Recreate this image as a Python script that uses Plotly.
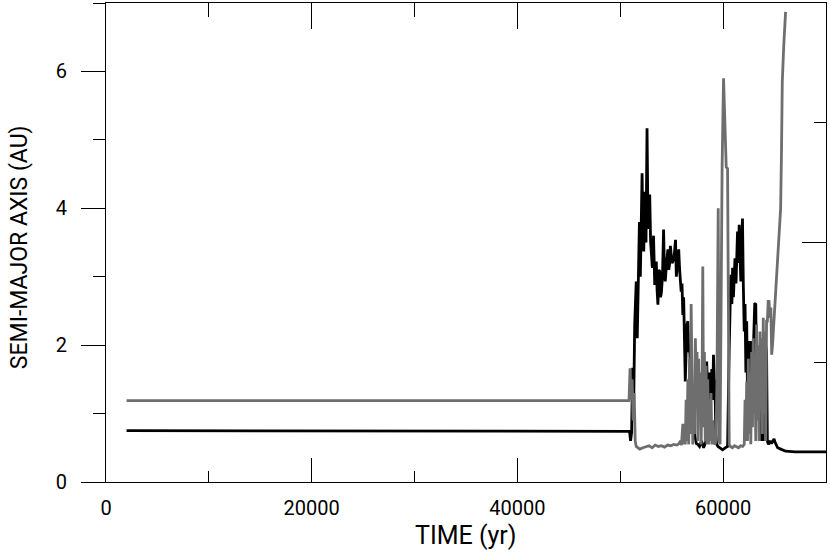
"""
Semi-major axis evolution of two bodies over time
"""

import plotly.graph_objects as go

# Black body: time (yr) and semi-major axis (AU)
black_t = [2000, 12000, 24000, 36000, 46000, 50900,
           51000, 51100, 51200, 51300, 51400, 51550, 51650, 51750, 51860, 51950,
           52020, 52120, 52200, 52280, 52400, 52500, 52600, 52700, 52860, 52950,
           53120, 53230, 53350, 53500, 53580, 53660, 53750, 53830, 53910, 53990,
           54100, 54210, 54290, 54370, 54500, 54630, 54710, 54790, 54870, 54950,
           55030, 55110, 55240, 55370, 55450, 55530, 55600, 55680, 55760, 55840,
           55920, 56000, 56080, 56160, 56240, 56320, 56400, 56480, 56570, 56650,
           56730, 56810, 56890, 56970, 57050, 57130, 57210, 57300, 57400, 57530,
           57700, 57900, 58100, 58340, 58400, 58500, 58580, 58660, 58740, 58820,
           58900, 58980, 59060, 59140, 59200, 59290, 59370, 59500, 59700, 59950,
           60200, 60430, 60590, 60680, 60750, 60850, 60920, 61000, 61080, 61150,
           61250, 61400, 61480, 61560, 61640, 61720, 61800, 61880, 61960, 62050,
           62130, 62210, 62290, 62370, 62450, 62530, 62610, 62690, 62770, 62850,
           62930, 63070, 63170, 63250, 63330, 63420, 63500, 63580, 63660, 63740,
           63820, 63900, 63980, 64060, 64140, 64220, 64300, 64400, 64550, 64700,
           64800, 64950, 65050, 65300, 65600, 66070, 67000, 70000]
black_a = [0.75, 0.75, 0.75, 0.75, 0.75, 0.74,
           0.60, 0.72, 1.67, 1.10, 2.30, 2.93, 2.10, 3.30, 3.80, 3.00,
           3.80, 4.51, 3.60, 3.37, 4.24, 3.50, 5.17, 3.70, 4.20, 3.50,
           3.13, 3.60, 2.88, 3.22, 2.80, 2.59, 3.10, 3.08, 2.70, 2.76,
           3.00, 3.69, 3.10, 2.93, 3.20, 3.40, 3.10, 3.18, 3.45, 3.31,
           3.20, 3.22, 3.30, 3.54, 3.00, 3.13, 3.30, 3.40, 3.13, 2.90,
           2.78, 2.90, 2.44, 2.70, 2.06, 1.47, 1.90, 2.30, 2.35, 1.90,
           2.00, 1.70, 0.99, 1.40, 0.80, 1.20, 0.70, 0.60, 0.56, 0.55,
           0.52, 0.60, 0.50, 0.60, 1.76, 1.30, 1.50, 1.60, 1.00, 1.47,
           1.65, 1.20, 1.86, 1.50, 1.47, 0.70, 0.55, 0.52, 0.50, 0.47,
           0.50, 0.52, 1.96, 2.80, 3.03, 2.60, 3.13, 2.70, 2.95, 3.27,
           2.90, 3.66, 3.20, 3.76, 3.30, 2.93, 3.50, 3.85, 2.90, 2.20,
           2.60, 1.60, 2.35, 1.23, 1.80, 2.06, 1.40, 2.06, 1.70, 1.30,
           1.90, 2.60, 2.61, 1.50, 1.80, 1.40, 1.60, 0.99, 1.90, 0.60,
           1.20, 0.60, 1.50, 1.80, 2.00, 1.90, 0.60, 0.55, 0.60, 0.56,
           0.60, 0.63, 0.58, 0.50, 0.48, 0.45, 0.44, 0.44]

# Grey body: time (yr) and semi-major axis (AU)
grey_t = [2000, 12000, 24000, 36000, 46000, 50850,
          50950, 51050, 51150, 51250, 51350, 51450, 51550, 51700, 51900, 52200,
          52500, 52800, 53100, 53400, 53700, 54000, 54300, 54600, 54900, 55200,
          55500, 55700, 55850, 55950, 56080, 56160, 56240, 56320, 56400, 56480,
          56570, 56650, 56730, 56810, 56890, 56970, 57050, 57130, 57210, 57300,
          57380, 57460, 57540, 57620, 57700, 57780, 57860, 57950, 58020, 58100,
          58180, 58260, 58340, 58420, 58500, 58580, 58660, 58740, 58820, 58900,
          58980, 59060, 59200, 59300, 59400, 59520, 59620, 59700, 59800, 59900,
          60040, 60150, 60300, 60430, 60500, 60590, 60700, 60900, 61100, 61300,
          61500, 61700, 61900, 62050, 62130, 62210, 62290, 62370, 62450, 62530,
          62610, 62690, 62770, 62850, 62930, 63010, 63090, 63170, 63250, 63330,
          63420, 63500, 63580, 63660, 63740, 63820, 63900, 63980, 64060, 64140,
          64220, 64300, 64380, 64460, 64550, 64640, 64720, 64800, 64880, 64950,
          65030, 65110, 65270, 65430, 65590, 65670, 65750, 65900, 66070]
grey_a = [1.19, 1.19, 1.19, 1.19, 1.19, 1.19,
          1.66, 1.20, 1.50, 0.90, 1.30, 0.60, 0.52, 0.50, 0.48, 0.50,
          0.52, 0.53, 0.50, 0.54, 0.52, 0.53, 0.51, 0.54, 0.53, 0.55,
          0.54, 0.56, 0.60, 0.54, 0.85, 0.55, 0.84, 0.55, 1.20, 0.60,
          1.50, 0.55, 1.80, 0.70, 2.60, 1.50, 0.55, 1.30, 0.70, 2.10,
          1.40, 1.90, 0.60, 1.80, 0.90, 1.60, 0.55, 1.40, 3.15, 0.80,
          1.90, 0.60, 1.70, 0.55, 1.50, 0.55, 1.20, 0.60, 1.30, 0.55,
          0.90, 0.60, 0.55, 0.60, 1.50, 4.00, 0.60, 0.55, 2.50, 4.60,
          5.90, 5.20, 4.60, 4.58, 1.50, 0.55, 0.52, 0.50, 0.53, 0.52,
          0.50, 0.53, 0.52, 0.55, 1.20, 0.60, 1.47, 0.60, 1.80, 0.70,
          1.60, 0.55, 1.90, 0.80, 2.10, 1.00, 1.80, 0.60, 2.30, 0.90,
          2.00, 0.60, 2.20, 1.20, 2.10, 0.70, 2.40, 1.00, 2.20, 0.60,
          2.35, 2.35, 2.64, 2.64, 2.40, 2.55, 1.86, 2.00, 2.20, 2.40,
          2.60, 2.93, 3.17, 3.56, 4.00, 4.80, 5.85, 6.40, 6.87]

FONT = "Roboto, Liberation Sans, sans-serif"

fig = go.Figure()

fig.add_trace(go.Scatter(x=black_t, y=black_a, mode='lines',
                         line=dict(color='black', width=2.8), showlegend=False))
fig.add_trace(go.Scatter(x=grey_t, y=grey_a, mode='lines',
                         line=dict(color='#6e6e6e', width=2.8), showlegend=False))
# dummy trace so the top / right axes get drawn
fig.add_trace(go.Scatter(x=[None], y=[None], xaxis='x2', yaxis='y2',
                         showlegend=False, hoverinfo='skip'))

tick_font = dict(family=FONT, size=20, color='black')

fig.update_layout(
    width=830, height=554,
    margin=dict(l=106, r=4, t=3, b=72),
    paper_bgcolor='white', plot_bgcolor='white',
    font=dict(family=FONT, color='black'),
    xaxis=dict(range=[0, 70000], tick0=0, dtick=20000, ticks='inside',
               tickformat='d', automargin=False,
               ticklen=24, tickwidth=1, tickcolor='black',
               minor=dict(dtick=10000, ticks='inside', ticklen=11, tickcolor='black'),
               showline=True, linecolor='black', linewidth=1,
               showgrid=False, zeroline=False, tickfont=tick_font,
               ticklabelstandoff=8),
    yaxis=dict(range=[0, 7], tick0=0, dtick=2, ticks='outside', automargin=False,
               ticklen=24, tickwidth=1, tickcolor='black',
               minor=dict(dtick=1, ticks='outside', ticklen=12, tickcolor='black'),
               showline=True, linecolor='black', linewidth=1,
               showgrid=False, zeroline=False, tickfont=tick_font,
               ticklabelstandoff=10),
    xaxis2=dict(range=[0, 70000], overlaying='x', side='top', anchor='y2',
                automargin=False,
                tick0=0, dtick=20000, ticks='inside', ticklen=26, tickcolor='black',
                minor=dict(dtick=10000, ticks='inside', ticklen=14, tickcolor='black'),
                showline=True, linecolor='black', linewidth=1,
                showticklabels=False, showgrid=False, zeroline=False),
    yaxis2=dict(range=[0, 4], overlaying='y', side='right', anchor='x2',
                automargin=False,
                tick0=0, dtick=2, ticks='inside', ticklen=24, tickcolor='black',
                minor=dict(dtick=1, ticks='inside', ticklen=12, tickcolor='black'),
                showline=True, linecolor='black', linewidth=1,
                showticklabels=False, showgrid=False, zeroline=False),
    annotations=[
        dict(text='TIME (yr)', xref='paper', yref='paper', x=0.5, y=-0.111,
             xanchor='center', yanchor='middle', showarrow=False,
             font=dict(family=FONT, size=25, color='black')),
        dict(text='SEMI-MAJOR AXIS (AU)', xref='paper', yref='paper',
             x=-0.121, y=0.49, xanchor='center', yanchor='middle',
             textangle=-90, showarrow=False,
             font=dict(family=FONT, size=23, color='black')),
    ],
)

# drop the browser's default page margin so the figure sits at 0,0
fig.write_html("out.html", config={'displayModeBar': False},
               post_script="document.body.style.margin='0';")
